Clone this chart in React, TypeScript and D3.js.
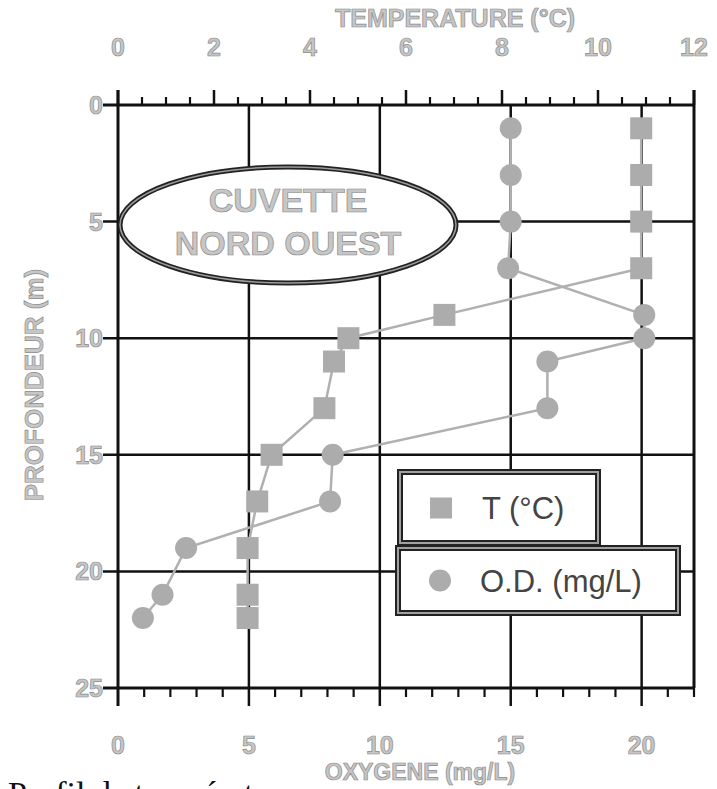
import React from 'react'
import * as d3 from 'd3'

// profile depths (m) and the two measured series
const depths = [1, 3, 5, 7, 9, 10, 11, 13, 15, 17, 19, 21, 22]
const temperature = [10.9, 10.9, 10.9, 10.9, 6.8, 4.8, 4.5, 4.3, 3.2, 2.9, 2.7, 2.7, 2.7]
const oxygen = [15.0, 15.0, 15.0, 14.9, 20.1, 20.1, 16.4, 16.4, 8.2, 8.1, 2.6, 1.7, 0.95]

const tempTicks = [0, 2, 4, 6, 8, 10, 12]
const oxTicks = [0, 5, 10, 15, 20]
const depthTicks = [0, 5, 10, 15, 20, 25]

const W = 717
const H = 789
const L = 118, R = 694, T = 105, B = 688

const labelStyle = {
  fontFamily: 'Liberation Sans, Arial, sans-serif',
  fontWeight: 700,
  fill: '#c6c6c6',
  stroke: '#8c8c8c',
  strokeWidth: 0.7,
} as const

export default function App() {
  const tx = d3.scaleLinear().domain([0, 12]).range([L, R])
  const ox = d3.scaleLinear().domain([0, 22]).range([L, R])
  const y = d3.scaleLinear().domain([0, 25]).range([T, B])

  const tempLine = d3.line<number>().x((d) => tx(d)).y((d, i) => y(depths[i]))
  const oxLine = d3.line<number>().x((d) => ox(d)).y((d, i) => y(depths[i]))

  const tempMinor = d3.range(0, 12.01, 0.5).filter((v) => v % 2 !== 0)
  const oxMinor = d3.range(0, 22.01, 1).filter((v) => v % 5 !== 0)

  return (
    <svg width={W} height={H} style={{ position: 'absolute', left: 0, top: 0, background: '#fff' }}>
      {/* grid lines */}
      {oxTicks.filter((v) => v > 0).map((v) => (
        <line key={'vg' + v} x1={ox(v)} x2={ox(v)} y1={T} y2={B + 18} stroke="#111" strokeWidth={2.5} />
      ))}
      {depthTicks.map((v) => (
        <line key={'hg' + v} x1={L - 15} x2={R} y1={y(v)} y2={y(v)} stroke="#111" strokeWidth={v === 0 || v === 25 ? 3 : 2.5} />
      ))}
      {/* frame */}
      <line x1={L} x2={L} y1={T - 15} y2={B + 18} stroke="#111" strokeWidth={3} />
      <line x1={R} x2={R} y1={T - 15} y2={B} stroke="#111" strokeWidth={3} />

      {/* top axis ticks (temperature) */}
      {tempTicks.map((v) => (
        <line key={'tM' + v} x1={tx(v)} x2={tx(v)} y1={T} y2={T - 15} stroke="#111" strokeWidth={2.5} />
      ))}
      {tempMinor.map((v) => (
        <line key={'tm' + v} x1={tx(v)} x2={tx(v)} y1={T} y2={T - 8} stroke="#111" strokeWidth={2.2} />
      ))}
      {/* bottom axis ticks (oxygen) */}
      {oxMinor.map((v) => (
        <line key={'om' + v} x1={ox(v)} x2={ox(v)} y1={B} y2={B + 9} stroke="#111" strokeWidth={2.2} />
      ))}

      {/* data lines */}
      <path d={tempLine(temperature) || ''} fill="none" stroke="#b0b0b0" strokeWidth={2.5} />
      <path d={oxLine(oxygen) || ''} fill="none" stroke="#b0b0b0" strokeWidth={2.5} />

      {/* markers */}
      {temperature.map((v, i) => (
        <rect key={'sq' + i} x={tx(v) - 11} y={y(depths[i]) - 11} width={22} height={22} fill="#acacac" />
      ))}
      {oxygen.map((v, i) => (
        <circle key={'ci' + i} cx={ox(v)} cy={y(depths[i])} r={11} fill="#acacac" />
      ))}

      {/* station label */}
      <ellipse cx={L + 170} cy={225} rx={168} ry={58} fill="#fff" stroke="#222" strokeWidth={5} />
      <ellipse cx={L + 170} cy={225} rx={168} ry={58} fill="none" stroke="#9a9a9a" strokeWidth={1.5} />
      <text x={L + 170} y={212} textAnchor="middle" fontSize={34} style={labelStyle}>CUVETTE</text>
      <text x={L + 170} y={255} textAnchor="middle" fontSize={34} style={labelStyle}>NORD OUEST</text>

      {/* legend */}
      {[
        { x: 400, y: 472, w: 198, h: 71, label: 'T (°C)', shape: 'square' },
        { x: 398, y: 548, w: 280, h: 65, label: 'O.D. (mg/L)', shape: 'circle' },
      ].map((b) => (
        <g key={b.label}>
          <rect x={b.x} y={b.y} width={b.w} height={b.h} fill="#fff" stroke="#222" strokeWidth={6} />
          <rect x={b.x} y={b.y} width={b.w} height={b.h} fill="none" stroke="#a0a0a0" strokeWidth={2} />
          {b.shape === 'square' ? (
            <rect x={b.x + 30} y={b.y + b.h / 2 - 10} width={22} height={21} fill="#acacac" />
          ) : (
            <circle cx={b.x + 42} cy={b.y + b.h / 2} r={11} fill="#acacac" />
          )}
          <text x={b.x + 82} y={b.y + b.h / 2 + 11} fontSize={31} fill="#444"
            style={{ fontFamily: 'Liberation Sans, Arial, sans-serif' }}>{b.label}</text>
        </g>
      ))}

      {/* tick labels */}
      {tempTicks.map((v) => (
        <text key={'tl' + v} x={tx(v)} y={56} textAnchor="middle" fontSize={25} style={labelStyle}>{v}</text>
      ))}
      {oxTicks.map((v) => (
        <text key={'ol' + v} x={ox(v)} y={754} textAnchor="middle" fontSize={25} style={labelStyle}>{v}</text>
      ))}
      {depthTicks.map((v) => (
        <text key={'dl' + v} x={103} y={y(v) + 9} textAnchor="end" fontSize={25} style={labelStyle}>{v}</text>
      ))}

      {/* axis titles */}
      <text x={455} y={27} textAnchor="middle" fontSize={25} style={labelStyle}>TEMPERATURE (°C)</text>
      <text x={420} y={780} textAnchor="middle" fontSize={23} style={labelStyle}>OXYGENE (mg/L)</text>
      <text transform={`translate(43, ${385}) rotate(-90)`} textAnchor="middle" fontSize={26} style={labelStyle}>
        PROFONDEUR (m)
      </text>

      {/* caption cut off by the page edge, as in the scan */}
      <text x={8} y={805} fontSize={34} fill="#111" style={{ fontFamily: 'Liberation Serif, Times New Roman, serif' }}>
        Profil de température
      </text>
    </svg>
  )
}
